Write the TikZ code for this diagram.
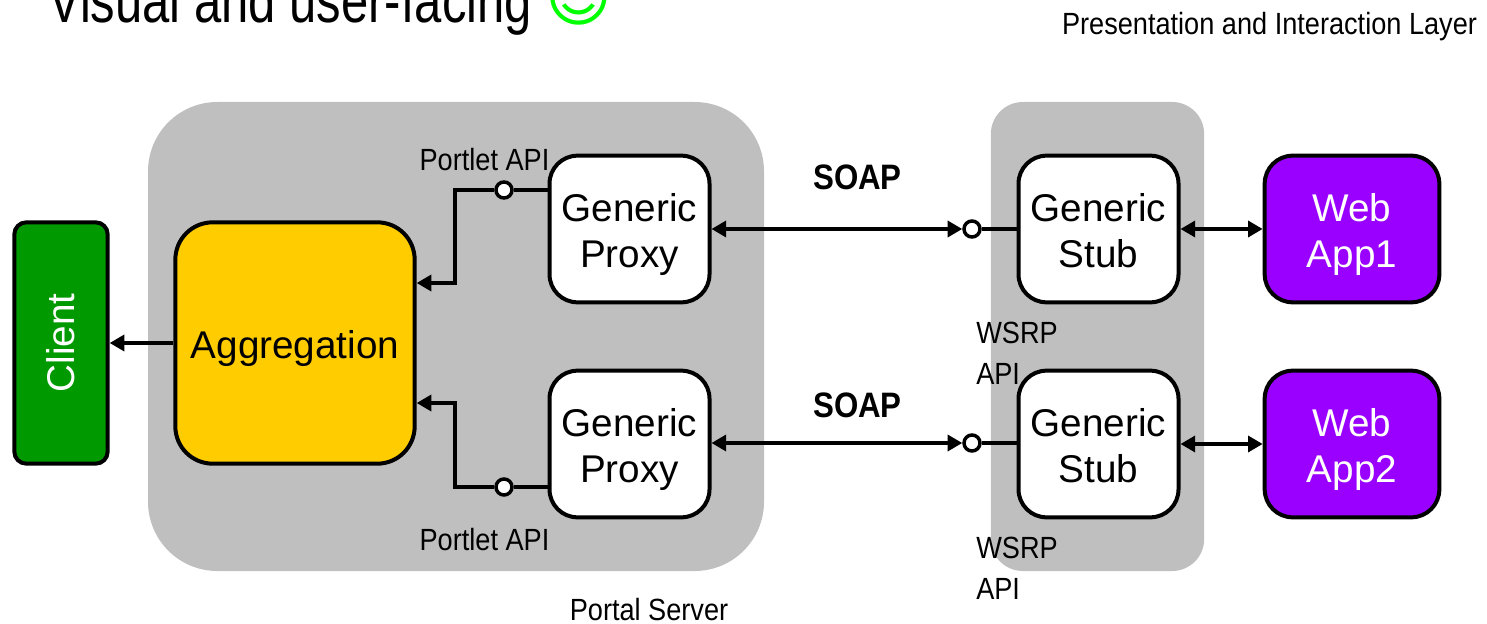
\documentclass[tikz,border=0pt]{standalone}
\usepackage{fontspec}
\setmainfont{Liberation Sans}
\newfontfamily\narrowfont[FakeStretch=0.885]{Liberation Sans}
\newfontfamily\titlefont[FakeStretch=0.79]{Liberation Sans}
\newfontfamily\symbolfont{DejaVu Sans}
\usetikzlibrary{arrows.meta}
\definecolor{panelgray}{HTML}{BFBFBF}
\definecolor{clientgreen}{HTML}{009900}
\definecolor{aggryellow}{HTML}{FFCC00}
\definecolor{apppurple}{HTML}{9900FF}
\definecolor{smilegreen}{HTML}{00FF00}
\newcommand{\blockstrut}{\rule{0pt}{29pt}}
\newcommand{\blockdepth}{\rule[-6pt]{0pt}{6pt}}
\tikzset{
  panel/.style = {fill=panelgray, minimum height=351.75pt, inner sep=0pt, outer sep=0pt},
  block/.style = {draw, line width=3pt, rounded corners=21pt, align=center, inner sep=0pt,
                  font=\fontsize{29}{34.5}\selectfont},
  servicebox/.style = {block, fill=white, minimum width=120pt, minimum height=110pt},
  appbox/.style = {block, fill=apppurple, text=white, minimum width=131pt, minimum height=110pt},
  socket/.style = {circle, draw, fill=white, line width=2.6pt, minimum size=12pt, inner sep=0pt},
  link/.style = {line width=2.6pt},
  caption/.style = {font=\narrowfont\fontsize{23}{30.75}\selectfont, align=left, inner sep=0pt},
  soaplabel/.style = {font=\narrowfont\bfseries\fontsize{26.5}{30}\selectfont, inner sep=0pt},
  >={Triangle[length=11pt,width=12pt]}
}
\begin{document}
\begin{tikzpicture}[x=0.75pt, y=-0.75pt]
\useasboundingbox (0,0) rectangle (1487,624);
\begin{scope}
\node[panel, minimum width=462pt, rounded corners=52pt] (portal) at (456,336.5) {};
\node[panel, minimum width=160pt, rounded corners=24pt] (stubpanel) at (1097.5,336.5) {};
\end{scope}
\begin{scope}
\node[block, fill=clientgreen, text=white, rounded corners=9pt, minimum width=70pt, minimum height=181pt] (client) at (61,343) {\rotatebox{90}{Client}};
\node[block, fill=aggryellow, rounded corners=28pt, minimum width=179.5pt, minimum height=181pt] (aggr) at (295,343) {\blockstrut Aggregation};
\node[servicebox] (proxyA) at (629.5,229) {\blockstrut Generic\\Proxy};
\node[servicebox] (proxyB) at (629.5,444) {\blockstrut Generic\\Proxy};
\node[servicebox] (stubA) at (1098.5,229) {\blockstrut Generic\\Stub\blockdepth};
\node[servicebox] (stubB) at (1098.5,444) {\blockstrut Generic\\Stub\blockdepth};
\node[appbox] (appA) at (1352,229) {\blockstrut Web\\App1};
\node[appbox] (appB) at (1352,444) {\blockstrut Web\\App2};
\node[socket] (portA) at (504,190) {};
\node[socket] (portB) at (504,487) {};
\node[socket] (wsrpA) at (972,229) {};
\node[socket] (wsrpB) at (972,443) {};
\coordinate (bendA) at (455,283);
\coordinate (bendB) at (455,403);
\end{scope}
\begin{scope}[every path/.style = {link}]
\draw[->] (aggr) -- (client);
\draw (proxyA.west |- portA) -- (portA);
\draw (proxyB.west |- portB) -- (portB);
\draw[->] (portA) -| (bendA) -- (aggr.east |- bendA);
\draw[->] (portB) -| (bendB) -- (aggr.east |- bendB);
\draw[<->] (proxyA) -- (wsrpA);
\draw[<->] (proxyB.east |- wsrpB) -- (wsrpB);
\draw (wsrpA) -- (stubA);
\draw (wsrpB) -- (stubB.west |- wsrpB);
\draw[<->] (stubA) -- (appA);
\draw[<->] (stubB) -- (appB);
\end{scope}
\node[caption] (portletA) at (484.5,160) {Portlet API};
\node[caption] (portletB) at (484.5,540) {Portlet API};
\node[caption] (portalname) at (649,610) {Portal Server};
\node[caption] (layername) at (1269.5,27) {Presentation and Interaction Layer};
\node[soaplabel] (soapA) at (857.5,177) {SOAP};
\node[soaplabel] (soapB) at (857.5,405) {SOAP};
\node[caption, anchor=west] (wsrplabelA) at (976,353.5) {WSRP\\API};
\node[caption, anchor=west] (wsrplabelB) at (976,568.5) {WSRP\\API};
\node[anchor=base west, inner sep=0pt, font=\titlefont\fontsize{46.5}{50}\selectfont] (title) at (48,23) {Visual and user-facing};
\node[anchor=base west, inner sep=0pt, text=smilegreen, font=\symbolfont\fontsize{48}{50}\selectfont] (smile) at (545,21) {☺};
\end{tikzpicture}
\end{document}
